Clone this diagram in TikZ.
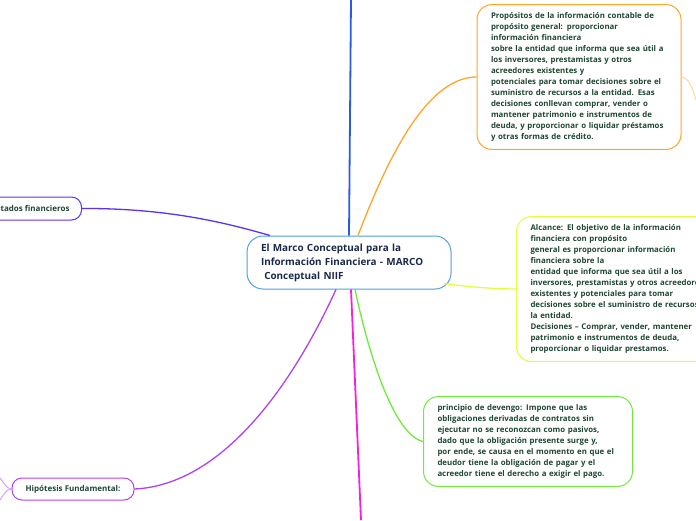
\documentclass[tikz,border=0pt]{standalone}
\usepackage{fontspec}
\setmainfont{Open Sans}
\definecolor{cblue}{RGB}{40,90,235}
\definecolor{corange}{RGB}{255,165,40}
\definecolor{clorange}{RGB}{255,215,150}
\definecolor{cyg}{RGB}{225,255,60}
\definecolor{cgreen}{RGB}{110,235,60}
\definecolor{cmag}{RGB}{250,30,220}
\definecolor{cpurple}{RGB}{175,65,240}
\definecolor{clpurple}{RGB}{215,160,250}
\definecolor{cviolet}{RGB}{90,50,245}
\definecolor{ccenter}{RGB}{80,160,220}
\definecolor{ctext}{RGB}{30,70,50}
\definecolor{cnavy}{RGB}{25,40,75}
\begin{document}
\begin{tikzpicture}[x=1pt,y=-1pt,
  infobox/.style={draw, rounded corners=15pt, line width=1pt, align=left, text=ctext,
    font=\fontsize{7.85}{11}\selectfont\bfseries, inner xsep=14pt, inner ysep=8pt},
  smallbox/.style={draw, rounded corners=10pt, line width=1pt, text=ctext,
    font=\fontsize{8}{10}\selectfont\bfseries, inner xsep=12pt, minimum height=23pt},
  conn/.style={line width=1.3pt}]
\useasboundingbox (0,0) rectangle (696,520);

% central node
\node[draw=ccenter, line width=1pt, rounded corners=16pt, align=left, text=cnavy,
  font=\fontsize{9.9}{14}\selectfont\bfseries, text width=176pt, inner xsep=14pt,
  minimum width=204pt, minimum height=53pt] (c) at (349,262.5)
  {El Marco Conceptual para la\\Información Financiera - MARCO\\\ Conceptual NIIF};

% orange box
\node[infobox, draw=corange, text width=176pt, minimum height=144pt] (prop) at (579,77)
{Propósitos de la información contable de\\
propósito general: proporcionar\\
información financiera\\
sobre la entidad que informa que sea útil a\\
los inversores, prestamistas y otros\\
acreedores existentes y\\
potenciales para tomar decisiones sobre el\\
suministro de recursos a la entidad. Esas\\
decisiones conllevan comprar, vender o\\
mantener patrimonio e instrumentos de\\
deuda, y proporcionar o liquidar préstamos\\
y otras formas de crédito.};

% alcance box
\node[infobox, draw=cyg, text width=200pt, minimum height=142pt, anchor=west] (alc) at (516,289)
{Alcance: El objetivo de la información\\
financiera con propósito\\
general es proporcionar información\\
financiera sobre la\\
entidad que informa que sea útil a los\\
inversores, prestamistas y otros acreedores\\
existentes y potenciales para tomar\\
decisiones sobre el suministro de recursos a\\
la entidad.\\
Decisiones – Comprar, vender, mantener\\
patrimonio e instrumentos de deuda,\\
proporcionar o liquidar prestamos.};

% green box
\node[infobox, draw=cgreen, text width=181pt, minimum height=89pt, anchor=west] (gr) at (423,441.5)
{principio de devengo: Impone que las\\
obligaciones derivadas de contratos sin\\
ejecutar no se reconozcan como pasivos,\\
dado que la obligación presente surge y,\\
por ende, se causa en el momento en que el\\
deudor tiene la obligación de pagar y el\\
acreedor tiene el derecho a exigir el pago.};

% small boxes
\node[smallbox, draw=cviolet, anchor=east] (est) at (82,208.5) {Estados financieros};
\node[smallbox, draw=cpurple, minimum width=122pt, minimum height=22pt] (hyp) at (73,489) {Hipótesis Fundamental:};

% free ends
\coordinate (topend) at (351,0);
\coordinate (magend) at (361,520);
\coordinate (orend) at (696,100);
\coordinate (lp1) at (0,478);
\coordinate (lp2) at (0,500);

% connectors
\draw[cblue, line width=1.8pt] (c.north) -- (topend);
\draw[corange, conn] ([xshift=9pt]c.north) .. controls (385,165) and (425,77) .. (prop.west);
\draw[clorange, line width=1pt] (prop.east) .. controls (690,78) and (693,90) .. (orend);
\draw[cyg, conn] ([xshift=-8pt,yshift=6pt]c.south east) .. controls (470,287) and (495,289) .. (alc.west);
\draw[cgreen, conn] ([xshift=6pt]c.south) .. controls (370,360) and (395,435) .. (gr.west);
\draw[cmag, line width=1.8pt] ([xshift=2pt]c.south) -- (magend);
\draw[cpurple, conn] ([xshift=-13pt]c.south) .. controls (290,390) and (220,485) .. (hyp.east);
\draw[clpurple, line width=1pt] (hyp.west) .. controls (6,489) and (3,481) .. (lp1);
\draw[clpurple, line width=1pt] (hyp.west) .. controls (6,489) and (3,496) .. (lp2);
\draw[cviolet, conn] (est.east) .. controls (170,208) and (230,224) .. ([xshift=-79pt]c.north);
\end{tikzpicture}
\end{document}
